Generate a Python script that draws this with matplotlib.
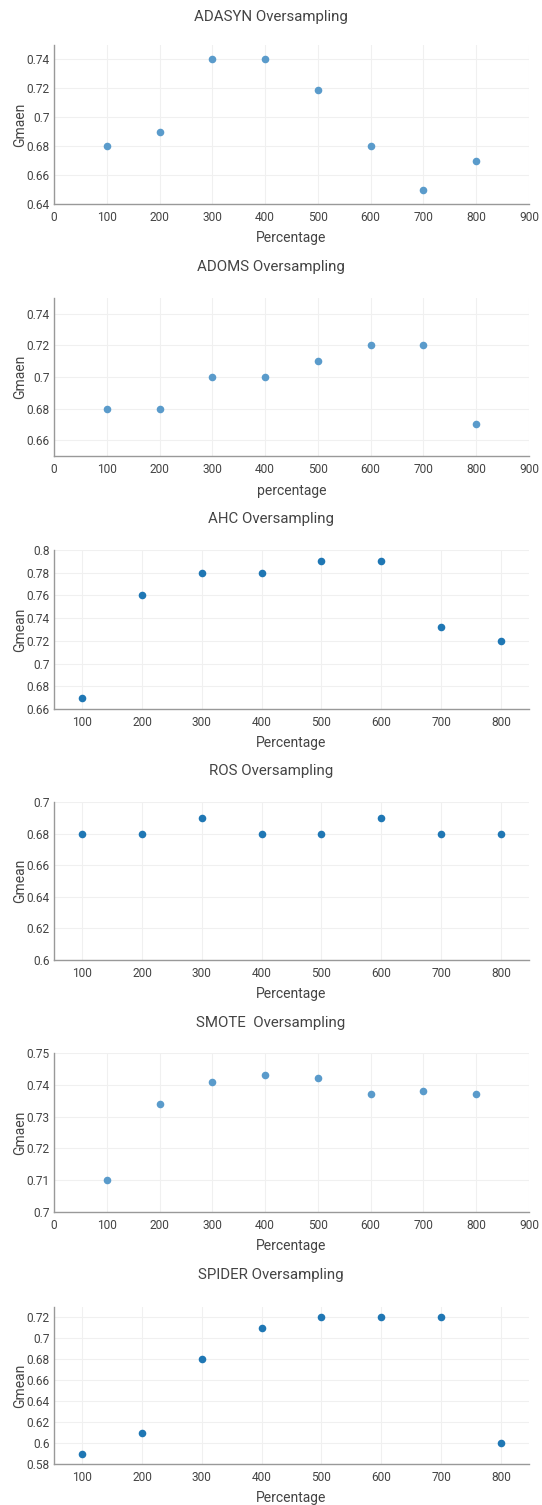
import matplotlib.pyplot as plt
import numpy as np
from matplotlib.ticker import FuncFormatter

plt.rcParams['font.family'] = ['Roboto', 'DejaVu Sans']

W, H = 542, 1505

percentage = [100, 200, 300, 400, 500, 600, 700, 800]

adasyn = [0.68, 0.69, 0.74, 0.74, 0.719, 0.68, 0.65, 0.67]
adoms = [0.68, 0.68, 0.70, 0.70, 0.71, 0.72, 0.72, 0.67]
ahc = [0.67, 0.76, 0.78, 0.78, 0.79, 0.79, 0.732, 0.72]
ros = [0.68, 0.68, 0.69, 0.68, 0.68, 0.69, 0.68, 0.68]
smote = [0.71, 0.734, 0.741, 0.743, 0.742, 0.737, 0.738, 0.737]
spider = [0.59, 0.61, 0.68, 0.71, 0.72, 0.72, 0.72, 0.60]

light = '#5a9bcb'
dark = '#1f77b4'

# title, values, ylabel, xlabel, colour, ylim, yticks, xlim, xticks, axes top/bottom px, title y, xlabel y
panels = [
    ('ADASYN Oversampling', adasyn, 'Gmaen', 'Percentage', light,
     (0.64, 0.75), np.arange(0.64, 0.745, 0.02), (0, 900), range(0, 901, 100), 45, 204, 17, 238),
    ('ADOMS Oversampling', adoms, 'Gmaen', 'percentage', light,
     (0.65, 0.75), np.arange(0.66, 0.745, 0.02), (0, 900), range(0, 901, 100), 298, 456, 267, 491),
    ('AHC Oversampling', ahc, 'Gmean', 'Percentage', dark,
     (0.66, 0.80), np.arange(0.66, 0.805, 0.02), (53, 847), range(100, 801, 100), 550, 709, 519, 743),
    ('ROS Oversampling', ros, 'Gmean', 'Percentage', dark,
     (0.60, 0.70), np.arange(0.60, 0.705, 0.02), (53, 847), range(100, 801, 100), 802, 960, 771, 994),
    ('SMOTE  Oversampling', smote, 'Gmaen', 'Percentage', light,
     (0.70, 0.75), np.arange(0.70, 0.755, 0.01), (0, 900), range(0, 901, 100), 1053, 1212, 1023, 1246),
    ('SPIDER Oversampling', spider, 'Gmean', 'Percentage', dark,
     (0.58, 0.73), np.arange(0.58, 0.725, 0.02), (53, 847), range(100, 801, 100), 1307, 1464, 1275, 1498),
]

fig = plt.figure(figsize=(W / 100, H / 100), dpi=100)

left, right = 54, 529
fmt = FuncFormatter(lambda v, p: '{:g}'.format(round(v, 3)))

for (title, vals, ylab, xlab, col, ylim, yt, xlim, xt, top, bot, ty, xly) in panels:
    ax = fig.add_axes([left / W, 1 - bot / H, (right - left) / W, (bot - top) / H])
    ax.scatter(percentage, vals, s=30, color=col, zorder=3, linewidths=0)
    ax.set_xlim(*xlim)
    ax.set_ylim(*ylim)
    ax.set_xticks(list(xt))
    ax.set_yticks(yt)
    ax.yaxis.set_major_formatter(fmt)
    ax.grid(True, color='#f0f0f0', linewidth=0.8)
    ax.set_axisbelow(True)
    for s in ['top', 'right']:
        ax.spines[s].set_visible(False)
    for s in ['left', 'bottom']:
        ax.spines[s].set_color('#999999')
        ax.spines[s].set_linewidth(1)
    ax.tick_params(length=0, labelsize=8.6, colors='#444444')
    ax.tick_params(axis='y', pad=3)
    ax.tick_params(axis='x', pad=5)
    ax.set_ylabel(ylab, fontsize=10, color='#444444', va='center')
    ax.yaxis.set_label_coords((20 - left) / (right - left), 0.5)
    fig.text(0.5, 1 - ty / H, title, ha='center', va='center', fontsize=10.8, color='#444444')
    fig.text((left + right) / 2 / W, 1 - xly / H, xlab, ha='center', va='center',
             fontsize=10, color='#444444')

fig.savefig('out.png', dpi=100)
